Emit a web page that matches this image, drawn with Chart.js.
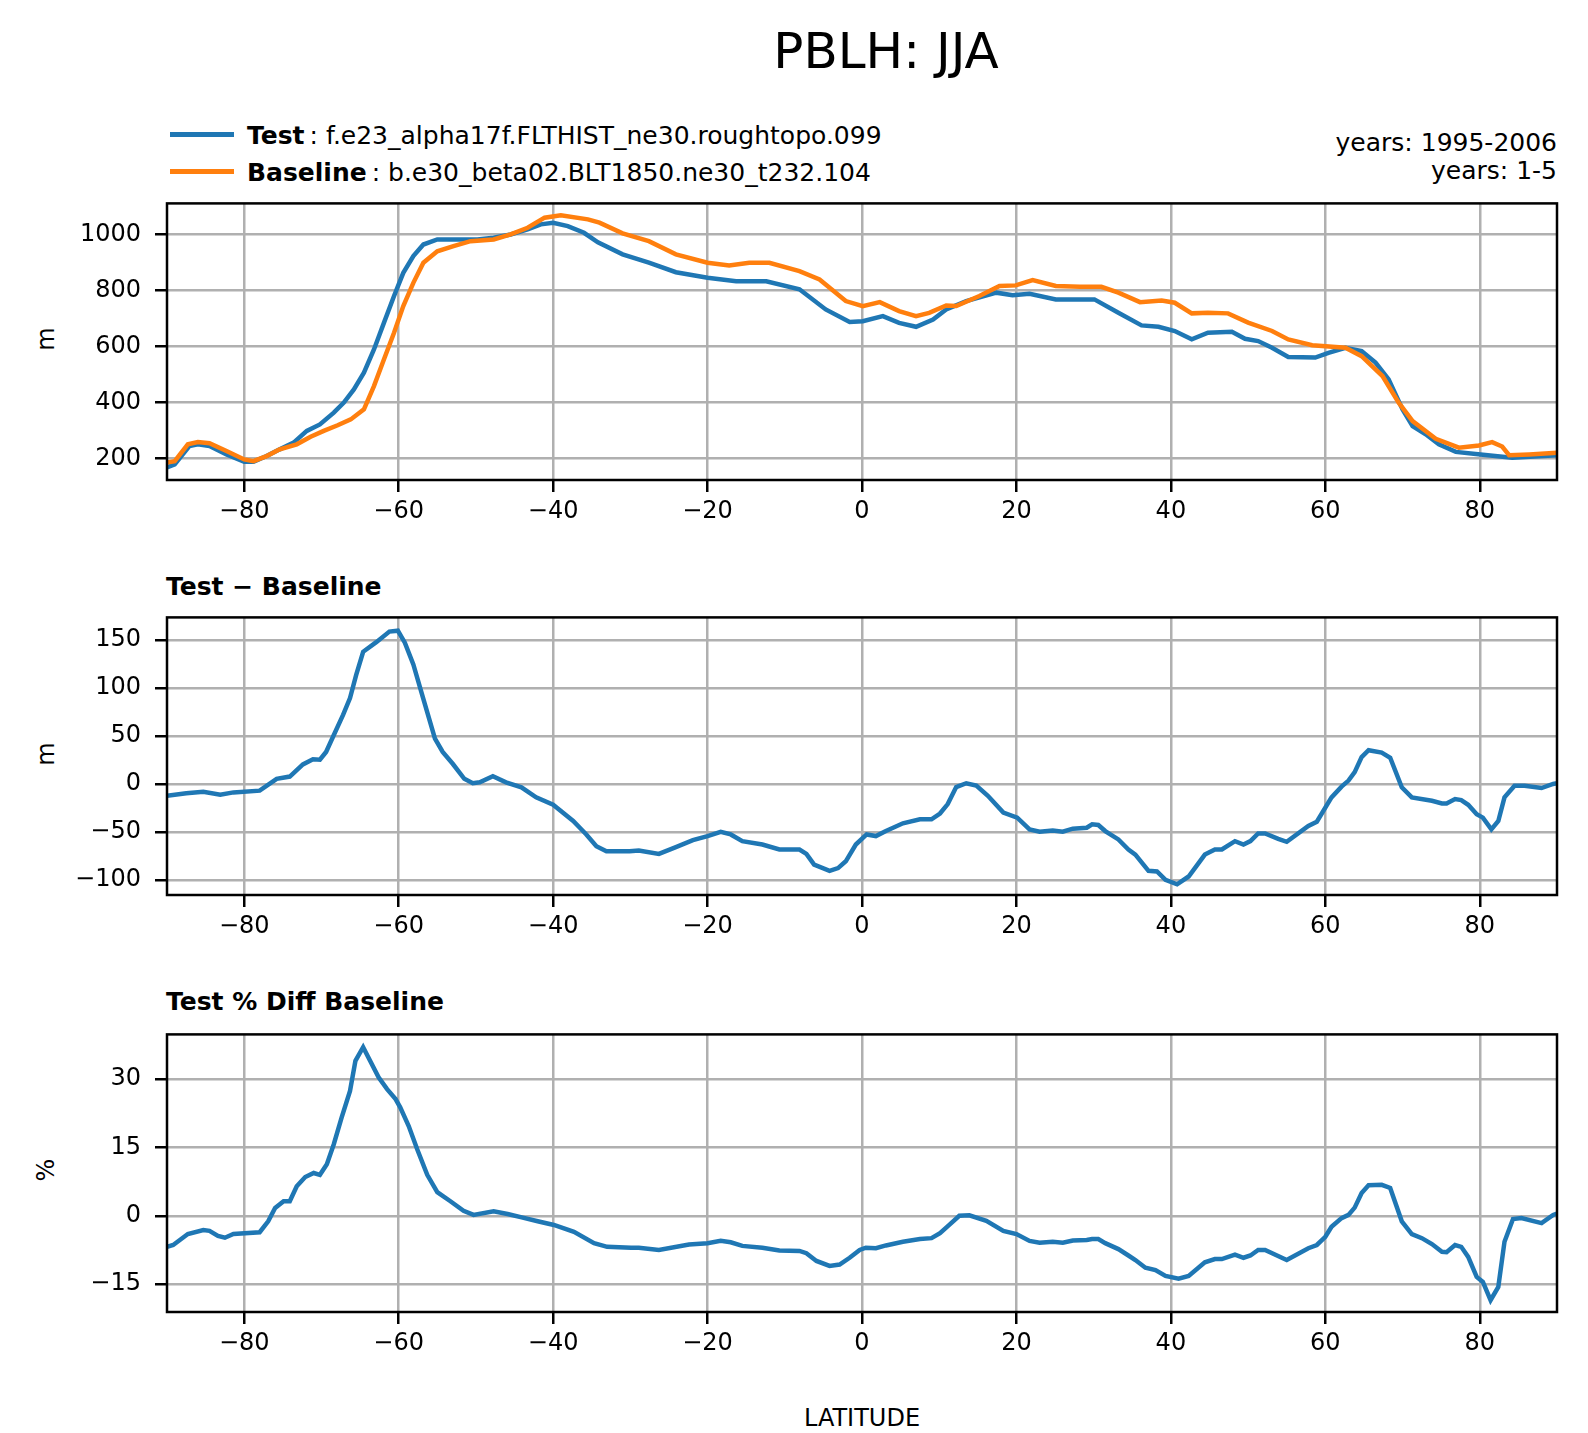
<!DOCTYPE html>
<html>
<head>
<meta charset="utf-8">
<script src="https://cdn.jsdelivr.net/npm/chart.js@4"></script>
<style>
  body { margin: 0; background: #fff; font-family: "DejaVu Sans", sans-serif; }
  #page { position: relative; width: 1588px; height: 1433px; overflow: hidden; }
  .box { position: absolute; left: 0; width: 1588px; }
  .txt { position: absolute; white-space: nowrap; color: #000; }
  .key { position: absolute; height: 5px; width: 64px; }
</style>
</head>
<body>
<div id="page">
  <div class="txt" style="left:886px; top:51px; transform:translate(-50%,-50%); font-size:50px;">PBLH: JJA</div>

  <div class="key" style="left:170px; top:132px; background:#1f77b4;"></div>
  <div class="txt" style="left:247px; top:135px; transform:translateY(-50%); font-size:25px;"><b>Test</b>&thinsp;: f.e23_alpha17f.FLTHIST_ne30.roughtopo.099</div>
  <div class="key" style="left:170px; top:169px; background:#ff7f0e;"></div>
  <div class="txt" style="left:247px; top:172px; transform:translateY(-50%); font-size:25px;"><b>Baseline</b>&thinsp;: b.e30_beta02.BLT1850.ne30_t232.104</div>
  <div class="txt" style="right:31px; top:142px; transform:translateY(-50%); font-size:25px; text-align:right;">years: 1995-2006</div>
  <div class="txt" style="right:31px; top:170px; transform:translateY(-50%); font-size:25px; text-align:right;">years: 1-5</div>

  <div class="txt" style="left:166px; top:586px; transform:translateY(-50%); font-size:25px; font-weight:bold;">Test &#8722; Baseline</div>
  <div class="txt" style="left:166px; top:1001px; transform:translateY(-50%); font-size:25px; font-weight:bold;">Test % Diff Baseline</div>

  <div class="txt" style="left:46px; top:339px; transform:translate(-50%,-50%) rotate(-90deg); font-size:24px;">m</div>
  <div class="txt" style="left:46px; top:754px; transform:translate(-50%,-50%) rotate(-90deg); font-size:24px;">m</div>
  <div class="txt" style="left:46px; top:1170px; transform:translate(-50%,-50%) rotate(-90deg); font-size:24px;">%</div>
  <div class="txt" style="left:862px; top:1418px; transform:translate(-50%,-50%); font-size:24px;">LATITUDE</div>

  <div class="box" id="b1" style="top:175px; height:365px;"><canvas id="c1"></canvas></div>
  <div class="box" id="b2" style="top:589px; height:366px;"><canvas id="c2"></canvas></div>
  <div class="box" id="b3" style="top:1006px; height:366px;"><canvas id="c3"></canvas></div>
</div>

<script>
// ---- data ----
var latTicks = [-80, -60, -40, -20, 0, 20, 40, 60, 80];

var testLat = [-90, -89, -87.1, -86, -84.5, -82.3, -80, -78.8, -77.1, -75.4, -73.6, -71.9, -70.2, -68.4, -67.1,
  -65.8, -64.5, -63.2, -61.9, -60.6, -59.4, -58.1, -56.8, -55, -52.9, -49.8, -47.7, -45.5, -43.3, -41.6, -40,
  -38.1, -36, -34.2, -31, -27.6, -24.1, -20, -16.3, -12.4, -8.1, -4.7, -1.6, 0.1, 2.7, 4.8, 7, 9.2, 10.9, 13.5,
  17.4, 19.5, 21.7, 25.1, 28.2, 30.1, 33.2, 36.2, 38.4, 40.5, 42.7, 44.8, 47.9, 49.6, 51.3, 53.1, 55.2, 58.7,
  60.4, 62.6, 64.7, 66.5, 68.2, 70, 71.3, 73, 74.7, 76.9, 80.1, 84.2, 90];
var testPblh = [168, 178, 244, 250, 244, 214, 188, 188, 208, 232, 256, 298, 321, 363, 399,
  446, 506, 589, 685, 780, 863, 923, 964, 982, 982, 982, 988, 1000, 1018, 1036, 1042,
  1030, 1006, 972, 929, 899, 865, 845, 833, 833, 804, 732, 687, 690, 708, 684, 670, 696, 732, 762,
  792, 783, 788, 768, 768, 768, 720, 675, 670, 655, 625, 649, 652, 627, 619, 595, 562, 560,
  577, 595, 583, 542, 482, 375, 315, 286, 250, 223, 214, 202, 211];

var baseLat = [-90, -89, -87.3, -86, -84.5, -82.3, -80, -78.8, -77.1, -75.4, -73.2, -71.4, -69.7, -67.9, -66.2,
  -64.5, -63.2, -61.9, -60.6, -59.4, -58.1, -56.8, -55, -52.9, -50.7, -47.7, -45.5, -43.3, -41.1, -39, -35.5,
  -34, -31, -27.6, -24.1, -20, -17.2, -14.6, -12, -8.1, -5.5, -2.1, 0.1, 2.3, 4.8, 7, 8.7, 10.9, 12.2, 15.2,
  17.8, 19.9, 22.1, 25.1, 28.2, 31, 33.2, 36, 38.8, 40.5, 42.7, 44.8, 47.4, 50, 53.1, 55.2, 58.3, 62.6, 64.7,
  67.4, 69.5, 71.3, 74.3, 77.3, 79.9, 81.6, 82.9, 83.8, 86.4, 90];
var basePblh = [185, 190, 250, 258, 254, 226, 196, 190, 208, 232, 250, 277, 298, 318, 339,
  375, 458, 554, 649, 744, 827, 899, 940, 958, 976, 982, 1000, 1024, 1060, 1069, 1054,
  1042, 1004, 976, 929, 899, 889, 899, 899, 869, 839, 762, 744, 758, 726, 708, 720, 746, 744, 780,
  816, 818, 837, 816, 813, 813, 792, 758, 764, 756, 718, 720, 718, 685, 655, 625, 604, 595, 565,
  494, 399, 333, 270, 238, 246, 258, 242, 211, 214, 220];

var diffLat = [-90, -87.5, -85.3, -83.1, -81.4, -78, -75.8, -74.1, -72.4, -71.1, -70.2, -69.4, -68.5, -67.2, -66.3,
  -65.5, -64.6, -62.9, -61.2, -60.1, -59.2, -58.1, -56.9, -55.3, -54.3, -53, -51.5, -50.4, -49.5, -47.8, -46.1,
  -44.1, -42.2, -40, -37.4, -35.7, -34.4, -33.1, -30.1, -28.9, -26.3, -24.1, -21.9, -20, -18.3, -17, -15.5,
  -12.9, -10.7, -8.1, -7.2, -6.2, -4.2, -3.1, -2.1, -0.8, 0.6, 1.8, 3.1, 5.3, 7.5, 9, 10.1, 11.1, 12.2, 13.5,
  14.8, 16.3, 18.3, 20.1, 21.7, 23, 24.7, 26, 27.3, 29.1, 29.8, 30.6, 31.5, 33.2, 34.5, 35.4, 37.1, 38.2, 39.3,
  40.8, 42.3, 44.4, 45.7, 46.6, 48.3, 49.4, 50.3, 51.3, 52.2, 53.9, 55, 57.8, 58.9, 60.8, 62.1, 63, 63.8, 64.7,
  65.6, 67.3, 68.4, 69.9, 71.2, 73.8, 75.1, 75.7, 76.8, 77.6, 78.5, 79.6, 80.4, 81.5, 82.4, 83.2, 84.5, 85.8,
  88, 89.5, 90];
var diffPblh = [-12, -9.5, -7.8, -11, -8.5, -6.7, 5.6, 8, 20.6, 25.9, 25.5, 33.6, 49.4, 72.2, 89.7,
  114, 138, 148, 159, 160, 147.5, 124.8, 91.5, 47.6, 33.6, 21.3, 5.6, 1, 2, 8.4, 2,
  -3.2, -13.7, -21.4, -38.3, -52.3, -64.6, -69.8, -69.8, -69, -72.6, -65.6, -58.3, -54, -49.5, -52.3, -59.3,
  -62.8, -68, -68, -72.6, -83.8, -90.2, -87.4, -80.3, -62.8, -52.3, -54, -48.8, -40.7, -36.5, -36.5, -30.5, -20.7, -3, 1,
  -1.5, -12, -29.5, -34.8, -47, -49.5, -48.1, -49.5, -46.3, -45.3, -41.8, -42.5, -48.8, -57.5, -68, -73.3, -90.2, -90.9, -99.6,
  -104.2, -96.1, -73.3, -68, -68, -59.3, -62.8, -59.3, -51.2, -51.2, -56.9, -60, -43.5, -39, -13.7, -2.5, 3.8, 12.6, 28.3,
  35.4, 32.9, 27.6, -3.2, -13.7, -17.2, -20, -20, -15.5, -16.5, -21.4, -31.3, -34.8, -47, -38.3, -13.7, -1.5, -1.5,
  -4, 0.3, 1];

var pctLat = [-90, -89.2, -87.3, -85.3, -84.5, -83.4, -82.5, -81.4, -78, -76.9, -76, -74.9, -74.1, -73.2, -72.1,
  -71, -70.2, -69.3, -68.4, -67.4, -66.3, -65.6, -64.6, -63.7, -62.6, -61.5, -60.4, -59.8, -58.7, -57.6, -56.3,
  -55, -53.3, -51.6, -50.3, -47.7, -45.9, -44.2, -42, -39.9, -37.3, -34.7, -33, -29.9, -28.9, -26.3, -22.4,
  -20, -18.3, -17, -15.5, -12.9, -10.7, -8.1, -7.2, -5.9, -4.2, -2.9, -1.6, -0.3, 0.5, 1.8, 3.1, 5.3, 7.5, 9,
  10.1, 11.3, 12.6, 13.9, 16.1, 18.3, 20, 21.7, 23, 24.7, 26, 27.3, 29.1, 29.8, 30.6, 31.5, 33.2, 34.5, 35.4,
  36.7, 38, 39.3, 41, 42.3, 44.4, 45.7, 46.6, 48.3, 49.4, 50.3, 51.3, 52.2, 55, 57.8, 58.9, 60, 60.8, 62.1, 63,
  63.8, 64.7, 65.6, 67.3, 68.4, 69.9, 71.2, 72.5, 73.8, 75.1, 75.7, 76.8, 77.6, 78.5, 79.6, 80.4, 81.4, 82.4,
  83.2, 84.3, 85.4, 88, 89.5, 90];
var pctPblh = [-6.8, -6.4, -4.0, -3.1, -3.3, -4.4, -4.8, -4.0, -3.6, -1.2, 1.7, 3.2, 3.2, 6.5, 8.5,
  9.4, 9.0, 11.3, 15.7, 21.5, 27.4, 34, 37, 34, 30.4, 27.8, 25.6, 23.8, 19.7, 14.6, 9.0,
  5.2, 3.2, 1.1, 0.2, 1.0, 0.4, -0.3, -1.2, -2.0, -3.5, -6.0, -6.8, -7.0, -7.0, -7.5, -6.3,
  -6.0, -5.5, -5.8, -6.6, -7.0, -7.6, -7.7, -8.2, -9.9, -11.0, -10.7, -9.2, -7.5, -7.0, -7.1, -6.5, -5.7, -5.1, -4.9,
  -3.8, -2.0, 0, 0.1, -1.1, -3.3, -4.0, -5.5, -5.9, -5.7, -5.9, -5.4, -5.3, -5.1, -5.1, -6.0, -7.3, -8.7, -9.7,
  -11.4, -11.9, -13.2, -13.8, -13.2, -10.2, -9.5, -9.5, -8.5, -9.2, -8.7, -7.5, -7.5, -9.7, -7.1, -6.4, -4.6, -2.4, -0.5, 0.2,
  1.8, 5.0, 6.7, 6.8, 6.1, -1.2, -4.0, -4.9, -6.2, -7.9, -8.0, -6.4, -6.8, -9.0, -13.4, -14.5, -18.5, -15.6,
  -5.7, -0.7, -0.5, -1.6, 0.2, 0.5];

var pblhTicks = [200, 400, 600, 800, 1000];
var diffTicks = [-100, -50, 0, 50, 100, 150];
var pctTicks = [-15, 0, 15, 30];

// ---- drawing ----
var BLUE = "#1f77b4", ORANGE = "#ff7f0e";

function pts(xs, ys) {
    return xs.map(function (x, i) { return { x: x, y: ys[i] }; });
}
function fmt(v) {
    return v < 0 ? "\u2212" + Math.abs(v) : String(v);
}

// black frame round the plot area, like matplotlib spines
var frame = {
    id: "frame",
    afterDraw: function (chart) {
        var a = chart.chartArea, c = chart.ctx;
        c.save();
        c.strokeStyle = "#000";
        c.lineWidth = 2.5;
        c.strokeRect(a.left, a.top, a.right - a.left, a.bottom - a.top);
        c.restore();
    }
};

function panel(id, datasets, ymin, ymax, yticks) {
    var ctx = document.getElementById(id).getContext("2d");
    return new Chart(ctx, {
        type: "line",
        data: { datasets: datasets },
        options: {
            responsive: true,
            maintainAspectRatio: false,
            animation: false,
            layout: { padding: { top: 20, right: 31, left: 0, bottom: 0 } },
            plugins: { legend: { display: false }, tooltip: { enabled: false } },
            elements: { point: { radius: 0 }, line: { tension: 0, borderWidth: 4.5 } },
            scales: {
                x: {
                    type: "linear", min: -90, max: 90,
                    afterBuildTicks: function (s) { s.ticks = latTicks.map(function (v) { return { value: v }; }); },
                    afterFit: function (s) { s.height = 60; },
                    grid: { color: "#b0b0b0", lineWidth: 2.5, tickColor: "#000", tickLength: 12, tickWidth: 2.5 },
                    border: { display: false },
                    ticks: { color: "#000", padding: 5, maxRotation: 0, font: { family: "DejaVu Sans", size: 24 }, callback: fmt }
                },
                y: {
                    min: ymin, max: ymax,
                    afterBuildTicks: function (s) { s.ticks = yticks.map(function (v) { return { value: v }; }); },
                    afterFit: function (s) { s.width = 167; },
                    grid: { color: "#b0b0b0", lineWidth: 2.5, tickColor: "#000", tickLength: 12, tickWidth: 2.5 },
                    border: { display: false },
                    ticks: { color: "#000", padding: 14, font: { family: "DejaVu Sans", size: 24 }, callback: fmt }
                }
            }
        },
        plugins: [frame]
    });
}

panel("c1", [
    { label: "Test", data: pts(testLat, testPblh), borderColor: BLUE, order: 1 },
    { label: "Baseline", data: pts(baseLat, basePblh), borderColor: ORANGE, order: 0 }
], 122.5, 1111, pblhTicks);

panel("c2", [
    { label: "Test - Baseline", data: pts(diffLat, diffPblh), borderColor: BLUE }
], -115.4, 173.8, diffTicks);

panel("c3", [
    { label: "Test % Diff Baseline", data: pts(pctLat, pctPblh), borderColor: BLUE }
], -21.1, 39.8, pctTicks);
</script>
</body>
</html>
